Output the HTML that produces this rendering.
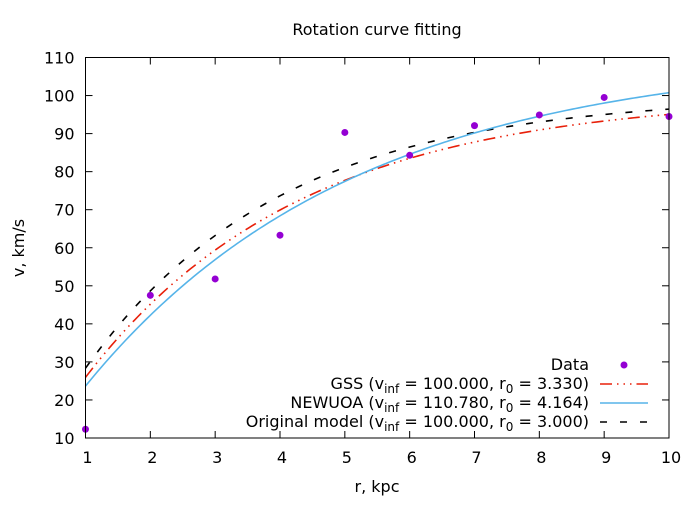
<!DOCTYPE html>
<html><head><meta charset="utf-8"><style>
body{margin:0;background:#fff}
svg{font-family:"DejaVu Sans","Liberation Sans",sans-serif;font-size:16px}
</style></head><body>
<svg id="chart" width="700" height="500" xmlns="http://www.w3.org/2000/svg">
<rect width="700" height="500" fill="#fff"/>
<text x="377" y="35" text-anchor="middle">Rotation curve fitting</text>
<g id="axes"></g>
<g id="series"></g>
<rect x="85.5" y="57.5" width="583.5" height="380.5" fill="none" stroke="#000" stroke-width="1"/>
<text x="377" y="492" text-anchor="middle">r, kpc</text>
<text transform="translate(24,248) rotate(-90)" text-anchor="middle">v, km/s</text>
<g id="legend">
<text x="589" y="370" text-anchor="end">Data</text>
<text x="589" y="389" text-anchor="end">GSS (v<tspan font-size="12" dy="4">inf</tspan><tspan dy="-4"> = 100.000, r</tspan><tspan font-size="12" dy="4">0</tspan><tspan dy="-4"> = 3.330)</tspan></text>
<text x="589" y="408" text-anchor="end">NEWUOA (v<tspan font-size="12" dy="4">inf</tspan><tspan dy="-4"> = 110.780, r</tspan><tspan font-size="12" dy="4">0</tspan><tspan dy="-4"> = 4.164)</tspan></text>
<text x="589" y="427" text-anchor="end">Original model (v<tspan font-size="12" dy="4">inf</tspan><tspan dy="-4"> = 100.000, r</tspan><tspan font-size="12" dy="4">0</tspan><tspan dy="-4"> = 3.000)</tspan></text>
<circle cx="624" cy="365" r="3.5" fill="#9400d3"/>
<line x1="600" y1="384" x2="648" y2="384" stroke="#e8200a" stroke-width="1.6" stroke-dasharray="12,5,1.5,5,1.5,5,1.5,5"/>
<line x1="600" y1="403" x2="648" y2="403" stroke="#56b4e9" stroke-width="1.6"/>
<line x1="600" y1="422" x2="648" y2="422" stroke="#000" stroke-width="1.6" stroke-dasharray="7,13"/>
</g>
</svg>
<script>
const xTicks=[1,2,3,4,5,6,7,8,9,10];
const yTicks=[10,20,30,40,50,60,70,80,90,100,110];
const dataR=[1,2,3,4,5,6,7,8,9,10];
const dataV=[12.3,47.5,51.8,63.3,90.3,84.3,92.1,94.9,99.5,94.5];
const gssParams=[100.0,3.330];
const newuoaParams=[110.780,4.164];
const originalParams=[100.0,3.000];
const NS="http://www.w3.org/2000/svg";
const X0=85.5,X1=669,Y0=438,Y1=57.5;
function sx(r){return X0+(r-1)/(10-1)*(X1-X0);}
function sy(v){return Y0-(v-10)/(110-10)*(Y0-Y1);}
function mk(tag,attrs,parent){const e=document.createElementNS(NS,tag);for(const k in attrs)e.setAttribute(k,attrs[k]);parent.appendChild(e);return e;}
const ax=document.getElementById('axes');
xTicks.forEach(t=>{
 const x=sx(t);
 const a=mk('line',{x1:x,y1:Y0,x2:x,y2:Y0-7,stroke:'#000'},ax);
 
 
 const b=mk('line',{x1:x,y1:Y1,x2:x,y2:Y1+7,stroke:'#000'},ax);
 
 
 const l=mk('text',{x:x+2,y:Y0+25,'text-anchor':'middle'},ax);l.textContent=t;
 
 
});
yTicks.forEach(t=>{
 const y=sy(t);
 const a=mk('line',{x1:X0,y1:y,x2:X0+7,y2:y,stroke:'#000'},ax);
 
 
 const b=mk('line',{x1:X1,y1:y,x2:X1-7,y2:y,stroke:'#000'},ax);
 
 
 const l=mk('text',{x:X0-11,y:y+6,'text-anchor':'end'},ax);l.textContent=t;
 
 
});
const sg=document.getElementById('series');
function curve(p,attrs,name){
 let d='';
 for(let i=0;i<=200;i++){const r=1+9*i/200;const v=p[0]*(1-Math.exp(-r/p[1]));d+=(i?'L':'M')+sx(r).toFixed(2)+','+sy(v).toFixed(2);}
 const e=mk('path',Object.assign({d:d,fill:'none','stroke-width':1.6},attrs),sg);
 
 
}
curve(originalParams,{stroke:'#000','stroke-dasharray':'7,13'},'original-model-line');
curve(gssParams,{stroke:'#e8200a','stroke-dasharray':'12,5,1.5,5,1.5,5,1.5,5'},'gss-line');
curve(newuoaParams,{stroke:'#56b4e9'},'newuoa-line');
dataR.forEach((r,i)=>{
 const c=mk('circle',{cx:sx(r),cy:sy(dataV[i]),r:3.5,fill:'#9400d3'},sg);
 
 
});
</script>
</body></html>
